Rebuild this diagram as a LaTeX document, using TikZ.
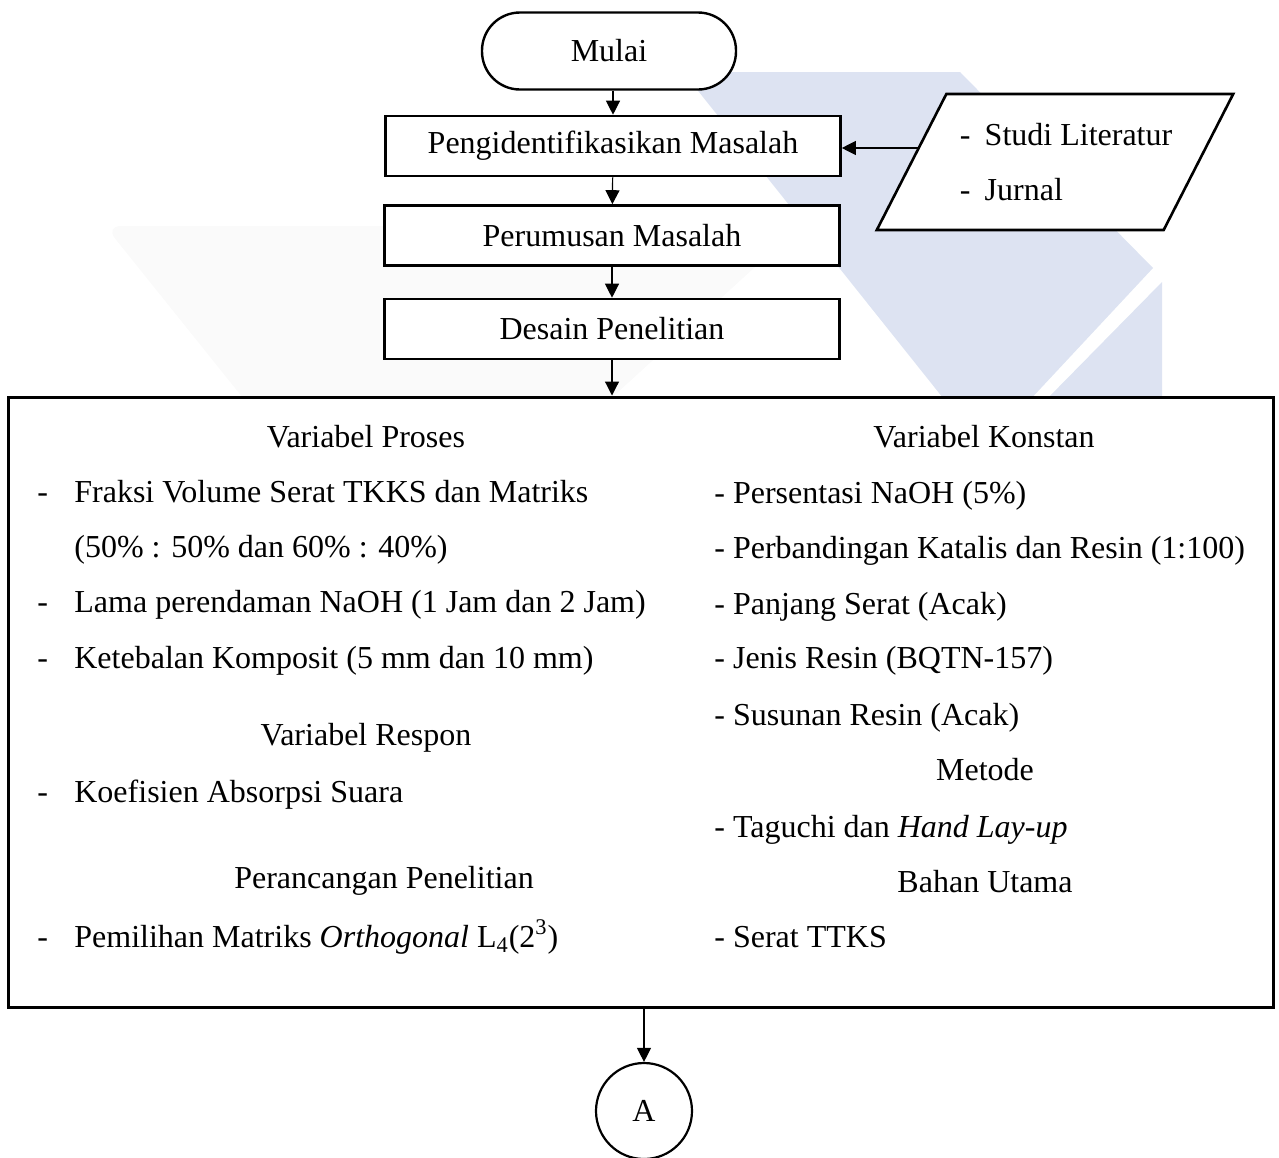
\documentclass[tikz,border=0pt]{standalone}
\usepackage{fontspec}
\setmainfont{Liberation Serif}
\usepackage{xcolor}
\usetikzlibrary{arrows.meta,shapes.geometric}
\definecolor{wmblue}{HTML}{DDE3F2}
\definecolor{wmgrey}{HTML}{FAFAFA}

\begin{document}
\begin{tikzpicture}[x=0.5pt,y=-0.5pt,
  every node/.style={font=\fontsize{16}{19}\selectfont},
  flowbox/.style={draw,line width=1.3pt,fill=white,minimum width=227.5pt,minimum height=30pt,inner sep=0pt},
  arr/.style={-{Triangle[length=7pt,width=7pt]},line width=0.6pt},
  item/.style={anchor=base west,inner sep=0pt},
  head/.style={anchor=base,inner sep=0pt}]
\useasboundingbox (0,0) rectangle (1279,1157);
\fill[wmgrey] (247,403) [rounded corners=8pt] -- (105,226) [sharp corners] -- (800,226) -- (606,403) -- cycle;
\fill[wmblue] (947,403) [rounded corners=8pt] -- (683,72) [sharp corners] -- (960,72) -- (1153,268) -- (1027,403) -- cycle;
\fill[wmblue] (1162,282) -- (1162,403) -- (1043,403) -- cycle;
\node (mulai) at (609,51) [draw,line width=1.2pt,fill=white,rounded corners=19pt,minimum width=127pt,minimum height=38.5pt] {Mulai};
\node (identifikasi) at (613,146) [flowbox] {Pengidentifikasikan Masalah};
\node (rumusan) at (612,235.5) [flowbox] {Perumusan Masalah};
\node (desain) at (612,329) [flowbox] {Desain Penelitian};
\node (literatur) at (1055,162) [trapezium,draw,fill=white,line width=1.3pt,
  trapezium left angle=49,trapezium right angle=131,trapezium stretches=true,
  minimum width=178.5pt,minimum height=68pt,inner xsep=-6pt,inner ysep=0pt,align=left,
  font=\fontsize{16}{27.5}\selectfont]
  {\hspace*{11pt}\makebox[12.5pt][l]{-}Studi Literatur\\\hspace*{11pt}\makebox[12.5pt][l]{-}Jurnal};
\coordinate (litin) at (919,148);
\node (variabel) at (640.5,702) [draw,line width=1.5pt,fill=white,minimum width=632.5pt,minimum height=305pt] {};
\node (konA) at (644,1111) [draw,circle,line width=1.1pt,minimum size=48pt,inner sep=0pt] {A};
\draw[arr] (identifikasi.north |- mulai.south) -- (identifikasi);
\draw[arr] (identifikasi) -- (rumusan);
\draw[arr] (rumusan) -- (desain);
\draw[arr] (desain) -- (desain |- variabel.north);
\draw[arr] (litin) -- (litin -| identifikasi.east);
\draw[arr] (variabel.south -| konA) -- (konA);
\foreach \x/\y/\t [count=\i] in {366/447/Variabel Proses,366/745/Variabel Respon,384/888/Perancangan Penelitian,
  984/447/Variabel Konstan,985/780/Metode,985/892/Bahan Utama}
  \node (head\i) at (\x,\y) [head] {\t};
\foreach \y/\t in {502/Fraksi Volume Serat TKKS dan Matriks,612/Lama perendaman NaOH (1 Jam dan 2 Jam),
  668/Ketebalan Komposit (5 mm dan 10 mm),802/Koefisien Absorpsi Suara,
  947/Pemilihan Matriks \textit{Orthogonal} L\textsubscript{4}(2\textsuperscript{3})}
  \node (p\y) at (37,\y) [item] {\makebox[18.5pt][l]{-}\t};
\node (p557) at (74,557) [item] {(50\% : 50\% dan 60\% : 40\%)};
\foreach \y/\t in {503/Persentasi NaOH (5\%),558/Perbandingan Katalis dan Resin (1:100),614/Panjang Serat (Acak),
  668/Jenis Resin (BQTN-157),725/Susunan Resin (Acak),837/Taguchi dan \textit{Hand Lay-up},947/Serat TTKS}
  \node (k\y) at (714,\y) [item] {- \t};
\end{tikzpicture}
\end{document}
